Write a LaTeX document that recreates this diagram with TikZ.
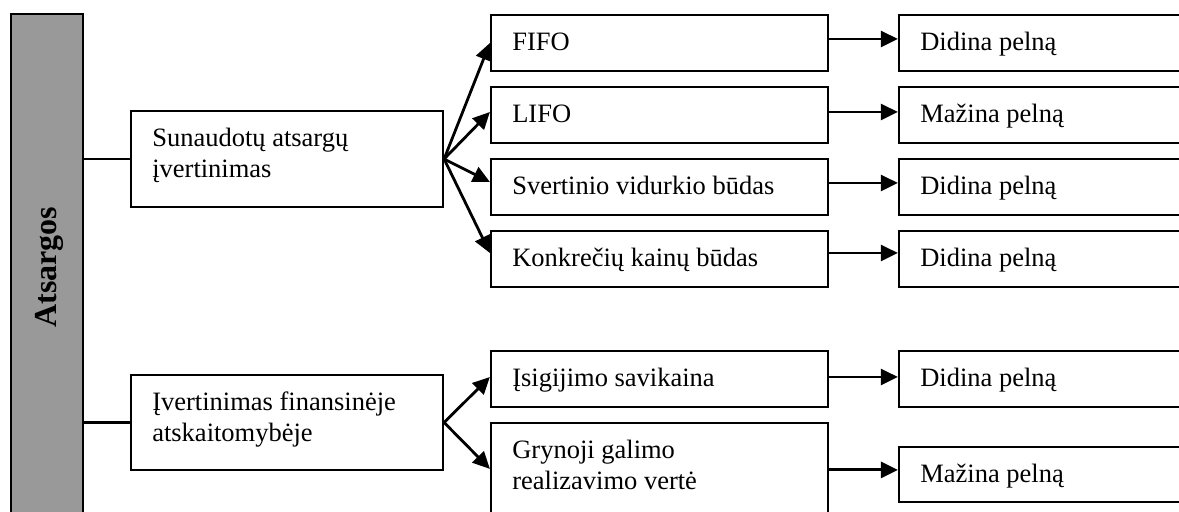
\documentclass[tikz,border=0pt]{standalone}
\usepackage{fontspec}
\setmainfont{Liberation Serif}
\usetikzlibrary{arrows.meta,fit,calc}
\definecolor{barfill}{RGB}{153,153,153}
\begin{document}
\begin{tikzpicture}[x=0.5pt,y=-0.5pt,
  box/.style={draw, line width=1.1pt, inner sep=0pt, rectangle},
  lbl/.style={inner sep=0pt, anchor=base west, font=\fontsize{13.25}{15.5}\selectfont},
  arr/.style={-{Triangle[length=8.5pt,width=8pt]}, line width=1.4pt},
  link/.style={line width=1.1pt}]
\useasboundingbox (0,0) rectangle (1179,512);
\clip (0,0) rectangle (1179,512);
% left bar
\node[box, fill=barfill, fit={(11,14) (83,540)}] (bar) {};
\node[font=\fontsize{16}{19}\selectfont\bfseries, rotate=90, inner sep=0pt] (bart) at (49,267) {Atsargos};
% level 1
\node[box, fit={(131,111) (443,207)}] (b1) {};
\node[box, fit={(131,375) (443,470)}] (b2) {};
% level 2
\node[box, fit={(491,15) (828,71)}] (fifo) {};
\node[box, fit={(491,87) (828,143)}] (lifo) {};
\node[box, fit={(491,159) (828,215)}] (sv) {};
\node[box, fit={(491,231) (828,287)}] (ko) {};
\node[box, fit={(491,351) (828,407)}] (isig) {};
\node[box, fit={(491,423) (828,540)}] (gryn) {};
% level 3
\node[box, fit={(899,15) (1200,71)}] (d1) {};
\node[box, fit={(899,87) (1200,143)}] (m1) {};
\node[box, fit={(899,159) (1200,215)}] (d2) {};
\node[box, fit={(899,231) (1200,287)}] (d3) {};
\node[box, fit={(899,351) (1200,407)}] (d4) {};
\node[box, fit={(899,447) (1200,502)}] (m2) {};
% labels
\node[lbl] (tb1) at ($(b1.north west)+(22,37)$) {\begin{tabular}[t]{@{}l@{}}Sunaudotų atsargų\\įvertinimas\end{tabular}};
\node[lbl] (tb2) at ($(b2.north west)+(22,37)$) {\begin{tabular}[t]{@{}l@{}}Įvertinimas finansinėje\\atskaitomybėje\end{tabular}};
\node[lbl] (tfifo) at ($(fifo.north west)+(22,37)$) {FIFO};
\node[lbl] (tlifo) at ($(lifo.north west)+(22,37)$) {LIFO};
\node[lbl] (tsv) at ($(sv.north west)+(22,37)$) {Svertinio vidurkio būdas};
\node[lbl] (tko) at ($(ko.north west)+(22,37)$) {Konkrečių kainų būdas};
\node[lbl] (tisig) at ($(isig.north west)+(22,37)$) {Įsigijimo savikaina};
\node[lbl] (tgryn) at ($(gryn.north west)+(22,37)$) {\begin{tabular}[t]{@{}l@{}}Grynoji galimo\\realizavimo vertė\end{tabular}};
\node[lbl] (td1) at ($(d1.north west)+(22,37)$) {Didina pelną};
\node[lbl] (tm1) at ($(m1.north west)+(22,37)$) {Mažina pelną};
\node[lbl] (td2) at ($(d2.north west)+(22,37)$) {Didina pelną};
\node[lbl] (td3) at ($(d3.north west)+(22,37)$) {Didina pelną};
\node[lbl] (td4) at ($(d4.north west)+(22,37)$) {Didina pelną};
\node[lbl] (tm2) at ($(m2.north west)+(22,37)$) {Mažina pelną};
% links bar -> level 1
\draw[link] (bar.east |- b1.west) -- (b1.west);
\draw[link] (bar.east |- b2.west) -- (b2.west);
% fans
\draw[arr] (b1.east) -- (fifo.west);
\draw[arr] (b1.east) -- ([yshift=1.5pt]lifo.west);
\draw[arr] (b1.east) -- ([yshift=2.5pt]sv.west);
\draw[arr] (b1.east) -- ([yshift=3pt]ko.west);
\coordinate (gp) at ($(gryn.north west)+(0,47)$);
\draw[arr] (b2.east) -- ([yshift=1pt]isig.west);
\draw[arr] (b2.east) -- (gp);
% level 2 -> level 3
\draw[arr] ([yshift=2pt]fifo.east) -- ([yshift=2pt]d1.west);
\draw[arr] ([yshift=1.5pt]lifo.east) -- ([yshift=1.5pt]m1.west);
\draw[arr] ([yshift=2pt]sv.east) -- ([yshift=2pt]d2.west);
\draw[arr] ([yshift=3pt]ko.east) -- ([yshift=3pt]d3.west);
\draw[arr] ([yshift=1pt]isig.east) -- ([yshift=1pt]d4.west);
\coordinate (gq) at ($(gryn.north east)+(0,48)$);
\draw[arr] (gq) -- (gq -| m2.west);
\end{tikzpicture}
\end{document}
